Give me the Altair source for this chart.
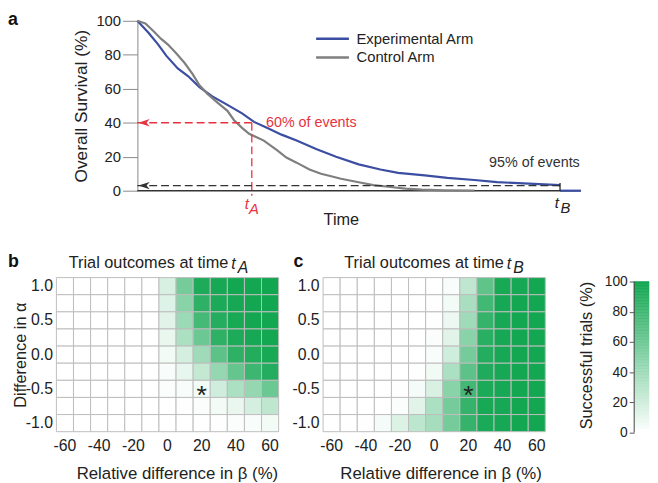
import altair as alt
import pandas as pd

FONT = "Liberation Sans"
BLUE = "#3b4ea2"
GRAY = "#7f7f7f"
RED = "#e8323f"
GREEN = "#11a650"
DARK = "#222222"

# ---------------- panel a data ----------------
exp_time = [0, 2.5, 4.7, 6.5, 9.1, 11.4, 14.0, 16.9, 20.3, 23.6, 26.3, 29.2, 32.5, 35.9,
            40.3, 44.8, 49.9, 54.8, 58.8, 64.8, 69.9, 76.0, 81.1, 87.1, 95.3]
exp_surv = [100, 93, 86, 79.5, 72, 67.5, 61, 55.5, 50.5, 45.5, 40.5, 37, 33, 29.5,
            24.5, 20, 15.5, 12.5, 10.5, 9, 7.5, 6.3, 5, 4.3, 3.3]
ctl_time = [0, 1.8, 3.6, 5.3, 6.9, 8.7, 10.7, 12.5, 14.0, 15.8, 18.0, 20.3, 21.8, 23.6,
            25.2, 28.5, 31.4, 33.6, 35.9, 38.8, 41.4, 43.7, 45.9, 49.9, 53.2, 56.6, 60.4,
            64.1, 69.3, 76.0]
ctl_surv = [100, 98.5, 94, 89.5, 86, 81, 75, 68.5, 62, 57, 52, 47, 41.5, 37,
            33.5, 29.5, 24, 19.5, 16.5, 12.5, 10, 8.5, 7, 5, 3.3, 2.3, 1.2,
            0.6, 0.2, 0]
arm_names = ["Experimental Arm", "Control Arm"]
arm_colors = [BLUE, GRAY]
legend_surv = [89.5, 78.4]
legend_t0, legend_t1, legend_tt = 40.3, 47.7, 49.4
t_a = 25.8
t_b = 95.3
t_end = 100
surv_a = 40
surv_b = 3
ann_text = ["60% of events", "95% of events"]
ann_time = [29.0, 79.3]
ann_surv = [40, 16.3]
ann_color = [RED, "#333333"]

# ---------------- panels b / c data ----------------
beta_vals = [-60, -50, -40, -30, -20, -10, 0, 10, 20, 30, 40, 50, 60]
alpha_vals = [1.0, 0.75, 0.5, 0.25, 0.0, -0.25, -0.5, -0.75, -1.0]
pct_b = [
    [0, 0, 0, 0, 0, 0, 17, 58, 95, 98, 99, 99, 100],
    [0, 0, 0, 0, 0, 0, 14, 50, 88, 96, 98, 99, 100],
    [0, 0, 0, 0, 0, 0, 12, 42, 78, 92, 97, 99, 99],
    [0, 0, 0, 0, 0, 0, 9, 35, 62, 88, 95, 98, 99],
    [0, 0, 0, 0, 0, 0, 5, 18, 40, 68, 88, 93, 97],
    [0, 0, 0, 0, 0, 0, 3, 10, 25, 45, 65, 82, 92],
    [0, 0, 0, 0, 0, 0, 2, 3, 5, 20, 35, 45, 62],
    [0, 0, 0, 0, 0, 0, 0, 1, 2, 5, 9, 18, 27],
    [0, 0, 0, 0, 0, 0, 0, 0, 0, 1, 2, 3, 5],
]
pct_c = [
    [0, 0, 0, 0, 0, 0, 0, 3, 27, 67, 97, 98, 99],
    [0, 0, 0, 0, 0, 0, 1, 5, 36, 80, 98, 99, 99],
    [0, 0, 0, 0, 0, 0, 1, 8, 40, 85, 98, 99, 99],
    [0, 0, 0, 0, 0, 0, 2, 12, 50, 90, 98, 99, 99],
    [0, 0, 0, 0, 0, 0, 3, 20, 58, 92, 98, 99, 99],
    [0, 0, 0, 0, 0, 1, 6, 35, 68, 94, 98, 99, 99],
    [0, 0, 0, 0, 1, 4, 16, 50, 80, 96, 98, 99, 99],
    [0, 0, 0, 0, 2, 12, 35, 58, 85, 97, 98, 99, 99],
    [0, 0, 1, 4, 15, 28, 38, 58, 85, 96, 98, 99, 99],
]
star_beta = [20]
star_alpha = [-0.5]
beta_ticks = [-60, -40, -20, 0, 20, 40, 60]
alpha_ticks = [1.0, 0.5, 0.0, -0.5, -1.0]
cbar_vals = list(range(0, 100))
cbar_ticks = [0, 20, 40, 60, 80, 100]

# ---------------- layout numbers ----------------
A_W, A_H = 531, 172
A_SHIFT = 82                      # y axis of panel a sits this far into its plot
XMIN = -A_SHIFT * (t_end / (A_W - A_SHIFT))
H_W, H_H = 225, 156
CB_GAP, CB_BAR, CB_H = 45, 15, 157

color_scale = alt.Scale(domain=[0, 100], range=["#ffffff", GREEN], interpolate="rgb")

# ================= panel a =================
xA = alt.X("time:Q", scale=alt.Scale(domain=[XMIN, t_end], nice=False, zero=False),
           axis=alt.Axis(title="Time", labels=False, ticks=False, domain=False, grid=False,
                         titleFontSize=16.5, titleX=288, titleY=34, titleBaseline="alphabetic",
                         titleAlign="center", titleFontWeight="normal"))
yA = alt.Y("surv:Q", scale=alt.Scale(domain=[0, 100], nice=False),
           axis=alt.Axis(title="Overall Survival (%)", values=[0, 20, 40, 60, 80, 100],
                         offset=-A_SHIFT, tickSize=15, labelPadding=2, labelFontSize=15,
                         titleFontSize=17.5, titlePadding=5, domainColor="#888888",
                         tickColor="#888888", grid=False, titleFontWeight="normal"))

curve_df = pd.DataFrame({
    "time": exp_time + ctl_time,
    "surv": exp_surv + ctl_surv,
    "arm": [arm_names[0]] * len(exp_time) + [arm_names[1]] * len(ctl_time),
})
arm_scale = alt.Scale(domain=arm_names, range=arm_colors)

axis_line = alt.Chart(pd.DataFrame({"time": [0], "time2": [t_end], "surv": [0]})).mark_rule(
    color="#333333", strokeWidth=1.5).encode(x=xA, x2="time2:Q", y=yA)

curves = alt.Chart(curve_df).mark_line(strokeWidth=2.2).encode(
    x=xA, y=yA, color=alt.Color("arm:N", scale=arm_scale, legend=None), detail="arm:N")

leg_df = pd.DataFrame({"time": [legend_t0] * 2, "time2": [legend_t1] * 2,
                       "tt": [legend_tt] * 2, "surv": legend_surv, "arm": arm_names})
leg_lines = alt.Chart(leg_df).mark_rule(strokeWidth=2.5).encode(
    x=xA, x2="time2:Q", y=yA, color=alt.Color("arm:N", scale=arm_scale, legend=None))
leg_text = alt.Chart(leg_df).mark_text(align="left", baseline="middle", fontSize=15,
                                       color=DARK).encode(
    x=alt.X("tt:Q", scale=alt.Scale(domain=[XMIN, t_end], nice=False, zero=False)),
    y=yA, text="arm:N")

blue_tail = alt.Chart(pd.DataFrame({"time": [t_b], "time2": [t_end], "surv": [0]})).mark_rule(
    color=BLUE, strokeWidth=2.2).encode(x=xA, x2="time2:Q", y=yA)

dash_df = pd.DataFrame({
    "time": [0, t_a, 0], "time2": [t_a, t_a, t_b],
    "surv": [surv_a, surv_a, surv_b], "surv2": [surv_a, -3, surv_b],
    "c": [RED, RED, "#333333"],
})
dashes = alt.Chart(dash_df).mark_rule(strokeWidth=1.3, strokeDash=[8, 4]).encode(
    x=xA, x2="time2:Q", y=yA, y2="surv2:Q", color=alt.Color("c:N", scale=None))

arrow_df = pd.DataFrame({"time": [1.5, 1.5], "surv": [surv_a, surv_b], "c": [RED, "#333333"]})
arrows = alt.Chart(arrow_df).mark_point(
    shape="M-1,0L1,-0.65L0.45,0L1,0.65Z", filled=True, size=130, opacity=1).encode(
    x=xA, y=yA, color=alt.Color("c:N", scale=None))

tick_b = alt.Chart(pd.DataFrame({"time": [t_b], "surv": [0], "surv2": [4.5]})).mark_rule(
    color="#222222", strokeWidth=1.3).encode(x=xA, y=yA, y2="surv2:Q")

ann_df = pd.DataFrame({"time": ann_time, "surv": ann_surv, "txt": ann_text, "c": ann_color})
anns = alt.Chart(ann_df).mark_text(align="left", baseline="middle", fontSize=14.5).encode(
    x=xA, y=yA, text="txt:N", color=alt.Color("c:N", scale=None))

tl_df = pd.DataFrame({
    "time": [24.7, 26.3, 94.6, 96.5],
    "surv": [-7.6, -10.8, -7.0, -10.2],
    "txt": ["t", "A", "t", "B"],
    "c": [RED, RED, DARK, DARK],
})
tlabels = alt.Chart(tl_df).mark_text(align="center", baseline="middle", fontSize=15,
                                     fontStyle="italic").encode(
    x=xA, y=yA, text="txt:N", color=alt.Color("c:N", scale=None))

label_a = alt.Chart(pd.DataFrame({"s": ["a"]})).mark_text(
    align="left", baseline="top", fontSize=18, fontWeight="bold", color="#111111").encode(
    x=alt.value(-49), y=alt.value(-10), text="s:N")

panel_a = alt.layer(axis_line, curves, leg_lines, leg_text, blue_tail, dashes, arrows, tick_b,
                    anns, tlabels, label_a).properties(width=A_W, height=A_H)


# ================= panels b / c =================
def heat(pct, title_end, sub, label, label_x, y_title, xtitle_x):
    df = pd.DataFrame([
        {"alpha": a, "beta": b, "pct": p}
        for a, row in zip(alpha_vals, pct) for b, p in zip(beta_vals, row)
    ])
    x = alt.X("beta:O", sort="ascending", scale=alt.Scale(paddingInner=0, paddingOuter=0),
              axis=alt.Axis(values=beta_ticks, labelAngle=0, ticks=False, domain=False,
                            labelPadding=6, labelFontSize=16, title="Relative difference in β (%)",
                            titleFontSize=17, titlePadding=12, titleFontWeight="normal",
                            titleX=xtitle_x, titleAlign="center"))
    y_axis = dict(values=alpha_ticks, ticks=False, domain=False, labelPadding=4,
                  labelFontSize=16,
                  labelExpr="replace(format(datum.value, '.1f'), '\u2212', '-')",
                  titleFontSize=16.5, titlePadding=-3, titleFontWeight="normal")
    y_axis["title"] = y_title
    y = alt.Y("alpha:O", sort="descending", scale=alt.Scale(paddingInner=0, paddingOuter=0),
              axis=alt.Axis(**y_axis))
    rects = alt.Chart(df).mark_rect(stroke="#bdbdbd", strokeWidth=1).encode(
        x=x, y=y, color=alt.Color("pct:Q", scale=color_scale, legend=None))
    star = alt.Chart(pd.DataFrame({"alpha": star_alpha, "beta": star_beta, "s": ["*"]})).mark_text(
        fontSize=27, baseline="middle", dy=7, color="#222222").encode(x=x, y=y, text="s:N")
    one = pd.DataFrame({"s": [0]})
    t_main = alt.Chart(one).mark_text(text="Trial outcomes at time", align="right",
                                      baseline="middle", fontSize=16.5, color=DARK).encode(
        x=alt.value(title_end), y=alt.value(-15))
    t_t = alt.Chart(one).mark_text(text="t", align="left", baseline="middle", fontSize=16,
                                   fontStyle="italic", color=DARK).encode(
        x=alt.value(title_end + 3), y=alt.value(-14))
    t_sub = alt.Chart(one).mark_text(text=sub, align="left", baseline="middle", fontSize=16,
                                     fontStyle="italic", color=DARK).encode(
        x=alt.value(title_end + 9.5), y=alt.value(-9.5))
    lab = alt.Chart(one).mark_text(text=label, align="left", baseline="middle", fontSize=18,
                                   fontWeight="bold", color="#111111").encode(
        x=alt.value(label_x), y=alt.value(-16))
    return alt.layer(rects, star, t_main, t_t, t_sub, lab).properties(width=H_W, height=H_H)


panel_b = heat(pct_b, 174, "A", "b", -49, "Difference in α", 122)
panel_c = heat(pct_c, 183, "B", "c", -30, None, 119)

# ================= colour bar =================
cb_df = pd.DataFrame({"v": cbar_vals, "v2": [v + 1 for v in cbar_vals]})
ycb = alt.Y("v:Q", scale=alt.Scale(domain=[0, 102.6], nice=False),
            axis=alt.Axis(values=cbar_ticks, title="Successful trials (%)", tickSize=5,
                          labelPadding=2, labelFontSize=14, titleFontSize=16.5, titlePadding=10,
                          domain=False, grid=False, tickColor="#555555", offset=-CB_GAP,
                          titleFontWeight="normal"))
cb_rect = alt.Chart(cb_df).mark_rect(strokeWidth=0.6).encode(
    y=ycb, y2="v2:Q", x=alt.value(CB_GAP), x2=alt.value(CB_GAP + CB_BAR),
    color=alt.Color("v:Q", scale=color_scale, legend=None),
    stroke=alt.Stroke("v:Q", scale=color_scale, legend=None))
cb_dom = alt.Chart(pd.DataFrame({"v": [0], "v2": [100]})).mark_rule(
    color="#444444", strokeWidth=1).encode(y=ycb, y2="v2:Q", x=alt.value(CB_GAP))
cbar = alt.layer(cb_rect, cb_dom).properties(width=CB_GAP + CB_BAR, height=CB_H)

bottom = alt.hconcat(panel_b, panel_c, cbar, spacing=45, bounds="flush").resolve_scale(
    x="independent", y="independent", color="independent", stroke="independent")

chart = alt.vconcat(panel_a, bottom, spacing=88, bounds="flush", padding=0).resolve_scale(
    x="independent", y="independent", color="independent"
).configure(font=FONT).configure_view(stroke=None).configure_axis(
    labelColor=DARK, titleColor=DARK, labelFont=FONT, titleFont=FONT
).configure_text(font=FONT)

chart.save("out.html", embed_options={"renderer": "svg", "actions": False})
